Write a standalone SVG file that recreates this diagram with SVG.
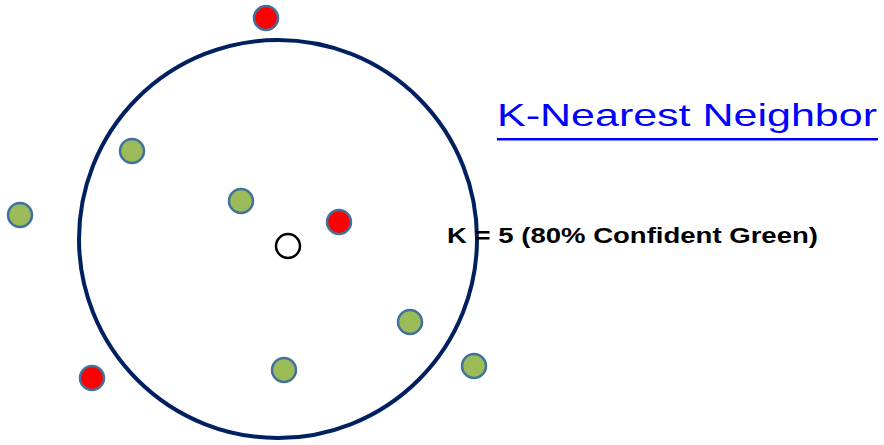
<svg xmlns="http://www.w3.org/2000/svg" width="884" height="445" viewBox="0 0 884 445">
<style>
.dot{stroke:#41719C;stroke-width:2.5}
.g{fill:#9BBB59}
.r{fill:#FF0000}
.title{font-family:"Liberation Sans","Open Sans",sans-serif;font-size:32px;fill:#0000FF}
.lbl{font-family:"Liberation Sans","Open Sans",sans-serif;font-size:22px;font-weight:bold;fill:#000}
</style>
<rect width="884" height="445" fill="#fff"/>
<g id="boundary"><circle cx="278" cy="239" r="199" fill="none" stroke="#002060" stroke-width="4"/></g>
<g id="red1"><circle class="dot r" cx="266" cy="18" r="12"/></g>
<g id="green1"><circle class="dot g" cx="132" cy="151" r="12"/></g>
<g id="green2"><circle class="dot g" cx="241" cy="201" r="12"/></g>
<g id="green3"><circle class="dot g" cx="20" cy="215" r="12"/></g>
<g id="red2"><circle class="dot r" cx="339" cy="222" r="12"/></g>
<g id="query"><circle cx="288" cy="246" r="12" fill="#fff" stroke="#000" stroke-width="2.5"/></g>
<g id="green4"><circle class="dot g" cx="410" cy="322" r="12"/></g>
<g id="green5"><circle class="dot g" cx="284" cy="370" r="12"/></g>
<g id="green6"><circle class="dot g" cx="474" cy="366" r="12"/></g>
<g id="red3"><circle class="dot r" cx="92" cy="378" r="12"/></g>
<g id="title"><text class="title" x="497" y="126" textLength="380" lengthAdjust="spacingAndGlyphs">K-Nearest Neighbor</text><rect x="497" y="138" width="381" height="2.5" fill="#0000FF"/></g>
<g id="label"><text class="lbl" x="447" y="243" textLength="371" lengthAdjust="spacingAndGlyphs">K = 5 (80% Confident Green)</text></g>
<g id="connectors"></g>
</svg>
